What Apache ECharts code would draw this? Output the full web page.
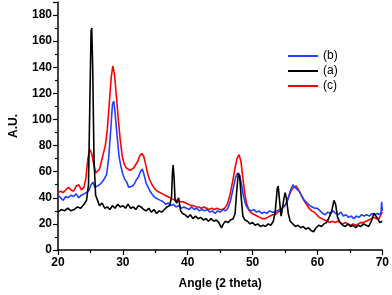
<!DOCTYPE html>
<html><head><meta charset="utf-8">
<script src="https://cdn.jsdelivr.net/npm/echarts@6/dist/echarts.min.js"></script>
<style>html,body{margin:0;padding:0;background:#fff}#c{width:392px;height:295px}</style>
</head><body><div id="c"></div>
<script>
// (a) black
const angleA = [20,20.5,21,21.5,22,22.5,23,23.5,24,24.4,24.7,24.9,25.1,25.2,25.35,25.55,25.8,26.1,26.4,26.8,27.2,27.6,28,28.4,28.8,29.2,29.6,30,30.4,30.8,31.2,31.6,32,32.4,32.8,33.2,33.6,34,34.4,34.8,35.2,35.6,36,36.4,36.8,37.2,37.5,37.65,37.75,37.9,38.05,38.3,38.6,38.9,39.2,39.6,40,40.4,40.8,41.2,41.6,42,42.4,42.8,43.2,43.6,44,44.4,44.8,45.2,45.5,45.8,46.2,46.6,47,47.3,47.55,47.8,48,48.25,48.5,48.8,49.2,49.6,50,50.4,50.8,51.2,51.6,52,52.4,52.8,53.2,53.5,53.8,53.95,54.15,54.4,54.6,54.85,55,55.2,55.5,55.8,56.2,56.6,57,57.4,57.8,58.2,58.6,59,59.4,59.8,60.2,60.6,61,61.4,61.8,62.2,62.55,62.8,63.1,63.5,63.9,64.3,64.7,65.1,65.5,65.9,66.3,66.7,67.1,67.5,67.9,68.3,68.7,69,69.3,69.6,70];
const valueA = [29,31,30,32,30,31,33,32,35,38,50,110,168,170,140,70,42,38,34,36,32,33,31,34,32,35,33,34,32,35,32,33,31,34,33,31,30,32,29,31,28,30,29,31,33,34,40,60,65,55,38,36,40,30,28,27,25,27,24,26,24,25,23,24,22,24,22,23,21,17,20,22,21,23,24,28,45,59,57,40,26,23,22,20,21,19,20,18,19,18,20,19,22,30,47,49,38,26,27,40,44,40,28,22,20,18,19,17,18,16,17,15,14,17,19,18,20,21,25,30,38,35,25,21,19,18,20,18,19,17,19,18,20,19,18,22,28,26,24,21,22];
// (b) blue
const angleB = [20,20.4,20.8,21.2,21.6,22,22.4,22.8,23.2,23.6,24,24.4,24.8,25.1,25.4,25.7,26,26.4,26.8,27.2,27.5,27.8,28.1,28.4,28.6,28.8,29.1,29.4,29.7,30,30.3,30.6,30.9,31.2,31.5,31.8,32.1,32.4,32.7,33,33.3,33.6,33.9,34.2,34.6,35,35.4,35.8,36.2,36.6,37,37.4,37.8,38.2,38.6,39,39.4,39.8,40.2,40.6,41,41.4,41.8,42.2,42.6,43,43.4,43.8,44.2,44.6,45,45.4,45.8,46.2,46.6,47,47.4,47.7,48,48.3,48.6,49,49.4,49.8,50.2,50.6,51,51.4,51.8,52.2,52.6,53,53.4,53.8,54.2,54.6,55,55.4,55.8,56.2,56.5,56.8,57.2,57.6,58,58.4,58.8,59.2,59.6,60,60.4,60.8,61.2,61.6,62,62.4,62.8,63.2,63.6,64,64.4,64.8,65.2,65.6,66,66.4,66.8,67.2,67.6,68,68.4,68.8,69.2,69.6,69.8,69.9,70];
const valueB = [42,40,38,41,40,42,41,43,40,42,43,44,46,50,52,48,47,50,52,55,58,70,90,112,114,105,88,72,64,58,54,52,48,47,49,51,54,56,60,62,57,51,48,45,42,40,39,38,37,35,36,34,35,33,34,32,33,32,31,33,31,32,30,31,30,31,29,30,28,30,29,31,30,32,38,47,56,59,57,50,41,34,31,30,31,29,30,28,29,28,30,29,29,30,31,32,34,38,45,50,48,49,45,41,38,36,34,33,32,32,30,28,27,29,28,30,28,27,29,26,27,25,26,24,26,25,27,26,27,26,28,27,28,27,29,37,30];
// (c) red
const angleC = [20,20.4,20.8,21.2,21.6,22,22.4,22.8,23.2,23.6,24,24.3,24.6,24.9,25.2,25.5,25.8,26.1,26.4,26.7,27,27.3,27.6,27.9,28.2,28.45,28.7,29,29.3,29.6,29.9,30.2,30.5,30.8,31.1,31.4,31.7,32,32.3,32.6,32.9,33.2,33.5,33.8,34.1,34.5,34.9,35.3,35.7,36.1,36.5,36.9,37.3,37.7,38.1,38.5,38.9,39.3,39.7,40.1,40.5,40.9,41.3,41.7,42.1,42.5,42.9,43.3,43.7,44.1,44.5,44.9,45.3,45.7,46.1,46.5,46.9,47.3,47.6,47.9,48.2,48.5,48.8,49.1,49.5,49.9,50.3,50.7,51.1,51.5,51.9,52.3,52.7,53.1,53.5,53.9,54.3,54.7,55.1,55.5,55.9,56.3,56.7,57.1,57.5,57.9,58.3,58.7,59.1,59.5,59.9,60.3,60.7,61.1,61.5,61.9,62.3,62.7,63.1,63.5,63.9,64.3,64.7,65.1,65.5,65.9,66.3,66.7,67.1,67.5,67.9,68.3,68.7,69.1,69.5,69.8,70];
const valueC = [44,45,44,46,48,46,45,49,50,46,48,55,70,77,74,66,59,58,62,68,74,80,92,112,132,141,135,118,100,84,72,66,63,62,61,62,63,64,68,72,74,72,66,59,54,50,47,45,44,43,42,41,40,39,38,38,37,37,36,35,34,34,33,33,32,33,32,31,32,31,32,31,31,32,35,42,52,63,70,73,68,55,43,35,30,28,27,26,25,24,24,25,26,27,27,29,30,33,35,40,45,48,49,46,42,38,35,32,30,29,27,25,24,23,22,21,22,21,22,21,20,21,20,19,20,19,20,21,21,22,23,24,25,24,24,27,29];

const zip = (xs, ys) => xs.map((x, i) => [x, ys[i]]);
const chart = echarts.init(document.getElementById('c'));
const axisFont = {fontFamily: 'Liberation Sans, Arial, sans-serif', fontWeight: 'bold', fontSize: 12, color: '#000'};
chart.setOption({
  animation: false,
  grid: {left: 53, right: 6, top: 2, bottom: 41},
  legend: {
    orient: 'vertical', left: 283, top: 44, itemWidth: 30, itemHeight: 2, itemGap: 1,
    icon: 'rect',
    data: ['(b)', '(a)', '(c)'],
    textStyle: {fontFamily: 'Liberation Sans, Arial, sans-serif', fontSize: 12, color: '#000', lineHeight: 14}
  },
  xAxis: {
    type: 'value', min: 20, max: 70, interval: 10,
    name: 'Angle (2 theta)', nameLocation: 'middle', nameGap: 28,
    nameTextStyle: axisFont,
    axisLine: {lineStyle: {color: '#000', width: 1.5}},
    axisTick: {inside: false, length: 5, lineStyle: {color: '#000', width: 1.2}},
    minorTick: {show: true, splitNumber: 2, length: 3, lineStyle: {color: '#000', width: 1.2}},
    axisLabel: Object.assign({margin: 7}, axisFont),
    splitLine: {show: false}
  },
  yAxis: {
    type: 'value', min: 0, max: 190, interval: 20,
    name: 'A.U.', nameLocation: 'middle', nameGap: 38, nameRotate: 90,
    nameTextStyle: axisFont,
    axisLine: {show: true, lineStyle: {color: '#000', width: 1.5}},
    axisTick: {show: true, inside: false, length: 5, lineStyle: {color: '#000', width: 1.2}},
    minorTick: {show: true, splitNumber: 2, length: 3, lineStyle: {color: '#000', width: 1.2}},
    axisLabel: Object.assign({margin: 6, showMaxLabel: false}, axisFont),
    splitLine: {show: false}
  },
  series: [
    {name: '(c)', type: 'line', symbol: 'none', data: zip(angleC, valueC), lineStyle: {color: '#ff0000', width: 1.6}, itemStyle: {color: '#ff0000'}},
    {name: '(b)', type: 'line', symbol: 'none', data: zip(angleB, valueB), lineStyle: {color: '#2040ff', width: 1.6}, itemStyle: {color: '#2040ff'}},
    {name: '(a)', type: 'line', symbol: 'none', data: zip(angleA, valueA), lineStyle: {color: '#000000', width: 1.6}, itemStyle: {color: '#000000'}}
  ]
});
</script></body></html>
